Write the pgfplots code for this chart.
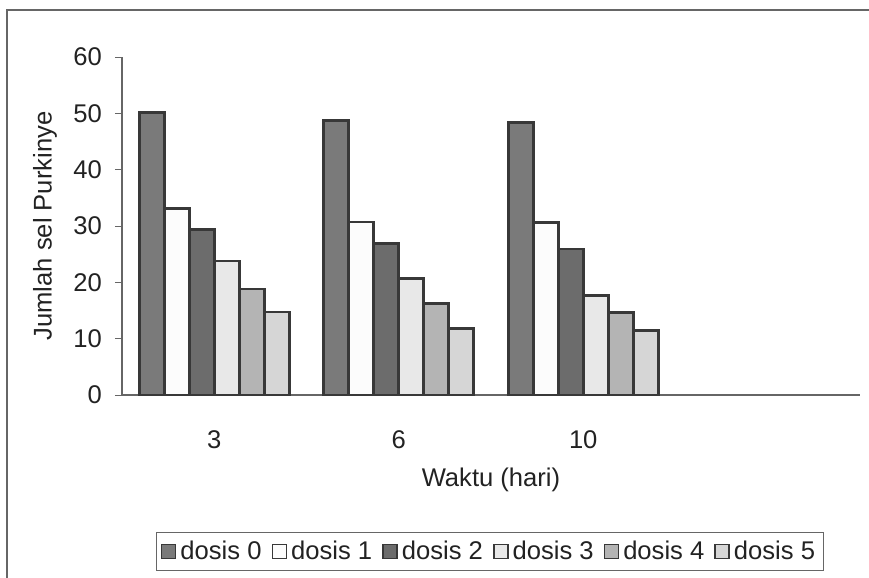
\documentclass[border=0pt]{standalone}
\usepackage{pgfplots}
\pgfplotsset{compat=1.18}
\usepackage{fontspec}
\setmainfont{Liberation Sans}
\definecolor{c0}{HTML}{7A7A7A}
\definecolor{c1}{HTML}{FCFCFC}
\definecolor{c2}{HTML}{6C6C6C}
\definecolor{c3}{HTML}{E8E8E8}
\definecolor{c4}{HTML}{B4B4B4}
\definecolor{c5}{HTML}{D6D6D6}
\definecolor{edge}{HTML}{383838}
\definecolor{axgray}{HTML}{666666}
\definecolor{txt}{HTML}{222222}
\begin{document}
\begin{tikzpicture}
\useasboundingbox (-61pt,-91.5pt) rectangle (373.5pt,197.5pt);
\draw[axgray, line width=0.6pt] (-57.5pt,-91.5pt) -- (-57.5pt,192.5pt) -- (373.5pt,192.5pt);
\begin{axis}[
  at={(0,0)}, anchor=south west,
  scale only axis,
  width=369pt, height=169pt,
  font=\fontsize{12.8}{15}\selectfont,
  text=txt,
  /pgf/number format/assume math mode=true,
  xmin=-0.5, xmax=3.5,
  ymin=0, ymax=60,
  ytick={0,10,...,60},
  xtick={0,1,2},
  xticklabels={3,6,10},
  major x tick style={draw=none},
  extra x ticks={-0.5,0.5,1.5,2.5,3.5},
  extra x tick labels={},
  extra x tick style={major tick length=3.5pt, tick style={draw=axgray}},
  major tick length=3.5pt,
  tick align=outside,
  axis x line*=bottom,
  axis y line*=left,
  axis line style={draw=axgray, line width=0.6pt},
  y tick style={draw=axgray},
  xticklabel style={yshift=-11pt},
  yticklabel style={xshift=-3pt},
  xlabel={Waktu (hari)},
  ylabel={Jumlah sel Purkinye},
  xlabel style={at={(axis description cs:0.5,-0.2515)}, anchor=center},
  ylabel style={at={(axis description cs:-0.1043,0.5)}, anchor=center},
  ybar,
  bar width=12.5pt,
  every axis plot/.append style={draw=edge, line width=1.3pt},
  legend columns=6,
  legend style={at={(axis description cs:0.4986,-0.463)}, anchor=center,
    draw=axgray, line width=0.5pt, inner sep=2pt,
    font=\fontsize{12.8}{15}\selectfont,
    /tikz/every even column/.append style={column sep=3pt}},
  legend image code/.code={\draw[#1, line width=0.8pt] (0pt,-3.5pt) rectangle (7pt,3.5pt);},
  legend cell align=left,
]
\addplot[fill=c0, bar shift=-31.25pt] coordinates {(0,50.1) (1,48.7) (2,48.4)};
\addplot[fill=c1, bar shift=-18.75pt] coordinates {(0,33.1) (1,30.7) (2,30.6)};
\addplot[fill=c2, bar shift=-6.25pt] coordinates {(0,29.4) (1,26.9) (2,25.9)};
\addplot[fill=c3, bar shift=6.25pt] coordinates {(0,23.8) (1,20.7) (2,17.7)};
\addplot[fill=c4, bar shift=18.75pt] coordinates {(0,18.8) (1,16.2) (2,14.6)};
\addplot[fill=c5, bar shift=31.25pt] coordinates {(0,14.7) (1,11.8) (2,11.4)};
\legend{dosis 0,dosis 1,dosis 2,dosis 3,dosis 4,dosis 5}
\end{axis}
\end{tikzpicture}
\end{document}
